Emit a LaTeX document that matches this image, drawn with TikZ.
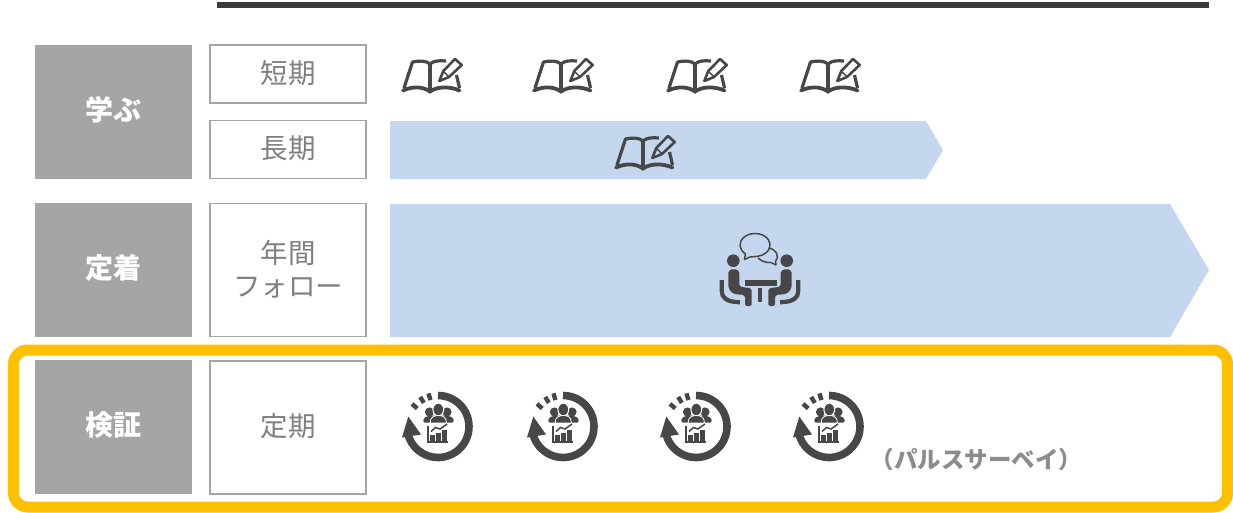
\documentclass[tikz,border=0pt]{standalone}
\usepackage{fontspec}
\setmainfont{Noto Sans CJK JP}
\usetikzlibrary{positioning, calc}

\definecolor{barcol}{HTML}{3B3B3B}
\definecolor{headcol}{HTML}{A5A5A5}
\definecolor{txtcol}{HTML}{7F7F7F}
\definecolor{arrowcol}{HTML}{C5D7EF}
\definecolor{framecol}{HTML}{FFC000}
\definecolor{iconcol}{HTML}{474747}

\tikzset{
	headbox/.style={fill=headcol, text=white, inner sep=0pt, outer sep=0pt, minimum width=157pt, text height=21.5pt, text depth=4.5pt, font=\fontsize{28}{32}\selectfont\bfseries},
	termbox/.style={draw=headcol, line width=1.8pt, fill=white, text=txtcol, inner sep=0pt, outer sep=0pt, minimum width=156.5pt, align=center, font=\fontsize{27.5}{32.5}\selectfont},
	oneline/.style={text height=22pt, text depth=4pt},
	bookicon/.pic={
		\draw[iconcol, line width=3.2pt, line join=round] (-27,12) -- (-18.5,-14) .. controls (-12,-15.5) and (-5,-15.5) .. (-1,-12) .. controls (3,-15.5) and (8,-15.5) .. (15,-15);
		\draw[iconcol, line width=3.2pt, line join=round] (25.5,-1) -- (28.5,12);
		\draw[iconcol, line width=3.2pt] (-1,-12) -- (-1,14);
		\draw[iconcol, line width=3.8pt, line cap=round] (-28,14.5) .. controls (-18,10) and (-8,10.5) .. (-1,15.5) .. controls (6,10.5) and (18,10) .. (28.5,14.5);
		\draw[iconcol, line width=2.6pt, line join=round] (8.3,5) -- (12.3,-5) -- (24,-17) -- (30.7,-11) -- (18,1) -- cycle;
		\draw[iconcol, line width=1.4pt] (12.3,-5) -- (18,1);
	},
	surveyicon/.pic={
		\draw[iconcol, line width=7.6pt] (-90:31) arc (-90:168:31);
		\fill[iconcol] (-29.7,-10) -- (-36,11) -- (-17,8) -- cycle;
		\foreach \ang in {-106,-121,-139} {
			\draw[iconcol, line width=4.4pt] (\ang:27.5) -- (\ang:34.5);
		}
		% persone
		\fill[iconcol] (-8.5,-14.5) circle (4.6);
		\fill[iconcol] (9,-14.5) circle (4.6);
		\fill[iconcol, rounded corners=1.5pt] (-15,-4) -- (-14,-9) -- (-8,-11) -- (9,-11) -- (15,-9) -- (16,-4) -- cycle;
		\draw[white, line width=1pt, fill=iconcol] (0.3,-17) ellipse (5.4 and 6.4);
		\draw[white, line width=0.8pt, fill=iconcol] (-8,-3.6) .. controls (-8,-10) and (-3,-11) .. (0.3,-11) .. controls (4,-11) and (8.5,-10) .. (8.5,-3.6) -- cycle;
		% grafico
		\draw[iconcol, line width=1.8pt] (-9.7,-1) -- (-9.7,15.7) -- (10,15.7);
		\foreach \xa/\ya in {-5.5/8.5, 0.5/6, 6.5/3.5} {
			\fill[iconcol] (\xa-2.2,\ya) rectangle (\xa+2.2,14.2);
		}
		\draw[iconcol, line width=1.5pt] (-7,5) -- (-2.5,1) -- (2,2.5) -- (9,-2.5);
	},
	meetingicon/.pic={
		% fumetti
		\draw[iconcol, line width=1.5pt, line join=round] (-14.6,-16.2) arc (130:440:15 and 11.5) -- (-10,-13) -- (-15.5,-10.5) -- cycle;
		\draw[iconcol, line width=1.5pt, line join=round] (8.5,-22) .. controls (16,-21) and (20,-14) .. (15.5,-9) -- (16,-5) -- (11,-7.5) .. controls (6,-7) and (1,-9) .. (-2,-12);
		% tavolo
		\fill[iconcol] (-15,10) rectangle (17,15.7);
		\fill[iconcol] (-1.7,18.3) rectangle (2.3,31.7);
		\foreach \side in {1,-1} {
			\begin{scope}[xscale=\side]
				\fill[iconcol] (-26.7,-9.3) circle (6.3);
				\fill[iconcol, rounded corners=2pt] (-31.7,5) .. controls (-31.7,1) and (-29,-0.7) .. (-26.7,-0.7) .. controls (-23,-0.7) and (-20.7,1) .. (-20.7,5) -- (-20.7,16.7) -- (-8.3,18.3) -- (-8.3,36) -- (-15,36) -- (-15,25) -- (-26.7,24) -- (-31.7,18.3) -- cycle;
				\draw[iconcol, line width=4.2pt] (-38.3,10) -- (-38.3,21) .. controls (-38.3,28) and (-33,32) .. (-20,32.3);
			\end{scope}
		}
	}
}

\begin{document}
\begin{tikzpicture}[x=1pt, y=-1pt]
	\useasboundingbox (0,0) rectangle (1233,512);
	
	% Barra in alto
	\fill[barcol] (217,2) rectangle (1209,8);
	
	% Colonna sinistra
	\node[headbox, minimum height=134pt] (learn) at (113.5,112) {学ぶ};
	\node[headbox, minimum height=134pt] (settle) at (113.5,270) {定着};
	\node[headbox, minimum height=134pt] (verify) at (113.5,427) {検証};
	
	% Periodi
	\node[termbox, oneline, minimum height=58pt] (short) at (288,74) {短期};
	\node[termbox, oneline, minimum height=58pt] (long) at (288,149.5) {長期};
	\node[termbox, minimum height=133pt] (yearly) at (288,270) {年間\\フォロー\\[-29.5pt]};
	\node[termbox, oneline, minimum height=133pt] (regular) at (288,427.5) {定期};
	
	% Frecce
	\fill[arrowcol] (390,121) -- (926,121) -- (943,150) -- (926,179) -- (390,179) -- cycle;
	\fill[arrowcol] (390,204) -- (1170,204) -- (1209,270) -- (1170,337) -- (390,337) -- cycle;
	
	% Icone
	\foreach \x in {431,562,696,829} {
		\pic at (\x,76) {bookicon};
	}
	\pic at (644,153) {bookicon};
	\pic at (760,270) {meetingicon};
	\foreach \x in {438,563,696,829} {
		\pic at (\x,426.5) {surveyicon};
	}
	
	\node[text=txtcol!90, font=\fontsize{23.5}{28}\selectfont\bfseries] (pulse) at (976.5,460) {（パルスサーベイ）};
	
	% Cornice
	\draw[framecol, line width=11pt, rounded corners=14pt] (13.5,350) rectangle (1227.5,507);
\end{tikzpicture}
\end{document}
